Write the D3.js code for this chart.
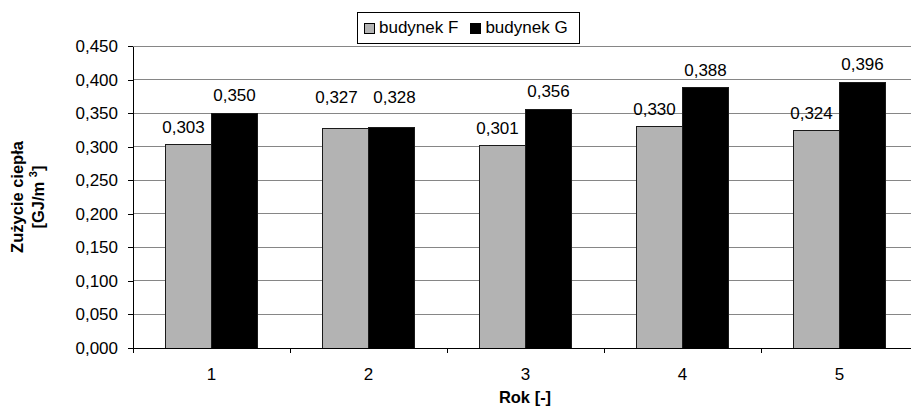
<!DOCTYPE html>
<html>
<head>
<meta charset="utf-8">
<script src="https://cdn.jsdelivr.net/npm/d3@7"></script>
<style>
  html, body { margin: 0; padding: 0; background: #fff; }
  svg { display: block; font-family: "Liberation Sans", Arial, sans-serif; }
</style>
</head>
<body>
<svg id="chart" width="911" height="410"></svg>
<script>
const years = ["1", "2", "3", "4", "5"];
const seriesNames = ["budynek F", "budynek G"];
const budynekF = [0.303, 0.327, 0.301, 0.330, 0.324];
const budynekG = [0.350, 0.328, 0.356, 0.388, 0.396];
const yTicks = [0, 0.05, 0.1, 0.15, 0.2, 0.25, 0.3, 0.35, 0.4, 0.45];

const GRAY = "#b3b3b3";
const BLACK = "#000000";
const colors = [GRAY, BLACK];

const margin = { top: 46, left: 133 };
const plotW = 785, plotH = 302;

const pl = d3.formatLocale({ decimal: ",", thousands: " ", grouping: [3], currency: ["", ""] });
const fmt = pl.format(".3f");

const svg = d3.select("#chart");
const g = svg.append("g").attr("transform", `translate(${margin.left},${margin.top})`);

const x = d3.scaleBand().domain(years).range([0, plotW]).padding(0);
const xs = d3.scaleBand().domain(seriesNames).range([0, x.bandwidth()])
  .paddingInner(0).paddingOuter(0.707);
const y = d3.scaleLinear().domain([0, 0.45]).range([plotH, 0]);

// grid lines
g.selectAll("line.grid")
  .data(yTicks.filter(d => d > 0))
  .join("line")
  .attr("class", "grid")
  .attr("x1", 0).attr("x2", plotW)
  .attr("y1", d => y(d)).attr("y2", d => y(d))
  .attr("stroke", "#868686").attr("stroke-width", 1)
  .attr("shape-rendering", "crispEdges");

// bars
const rows = years.map((yr, i) => ({ yr, vals: [budynekF[i], budynekG[i]] }));
const grp = g.selectAll("g.cat")
  .data(rows)
  .join("g")
  .attr("class", "cat")
  .attr("transform", d => `translate(${x(d.yr)},0)`);

grp.selectAll("rect")
  .data(d => d.vals.map((v, j) => ({ name: seriesNames[j], v, j })))
  .join("rect")
  .attr("x", d => xs(d.name))
  .attr("y", d => y(d.v))
  .attr("width", xs.bandwidth())
  .attr("height", d => plotH - y(d.v))
  .attr("fill", d => colors[d.j])
  .attr("stroke", "#1a1a1a").attr("stroke-width", 1)
  .attr("shape-rendering", "crispEdges");

// value labels: first series nudged left; when the pair would collide, lift and spread them
const labelGap = 12, textH = 14;
grp.each(function (d) {
  const ly = d.vals.map(v => y(v) - labelGap);
  const lx = seriesNames.map(n => xs(n) + xs.bandwidth() / 2);
  let dx = [-5, 0];
  if (Math.abs(ly[0] - ly[1]) < textH) {
    const top = Math.min(ly[0], ly[1]) - 13;
    ly[0] = top; ly[1] = top;
    dx = [-9, 3];
  }
  d3.select(this).selectAll("text.val")
    .data(d.vals)
    .join("text")
    .attr("class", "val")
    .attr("x", (v, j) => lx[j] + dx[j])
    .attr("y", (v, j) => ly[j])
    .attr("text-anchor", "middle")
    .attr("font-size", 17)
    .attr("fill", "#000")
    .text(v => fmt(v));
});

// y axis
const yAxis = g.append("g")
  .call(d3.axisLeft(y).tickValues(yTicks).tickFormat(fmt).tickSize(5).tickPadding(10).tickSizeOuter(0));
yAxis.selectAll("text").attr("font-size", 17).attr("fill", "#000").attr("font-family", null);
yAxis.selectAll("line, path").attr("stroke", "#000").attr("shape-rendering", "crispEdges");

// x axis
const xAxis = g.append("g")
  .attr("transform", `translate(0,${plotH})`)
  .call(d3.axisBottom(x).tickSize(0).tickPadding(20).tickSizeOuter(0));
xAxis.selectAll("text").attr("font-size", 17).attr("fill", "#000").attr("font-family", null);
xAxis.select("path").attr("stroke", "#000").attr("shape-rendering", "crispEdges");
xAxis.selectAll("line.boundary")
  .data(years.map(d => x(d)).concat([x.range()[1]]))
  .join("line")
  .attr("class", "boundary")
  .attr("x1", d => d).attr("x2", d => d)
  .attr("y1", 0).attr("y2", 5)
  .attr("stroke", "#000")
  .attr("shape-rendering", "crispEdges");

// axis titles
svg.append("text")
  .attr("x", 525).attr("y", 403)
  .attr("text-anchor", "middle")
  .attr("font-size", 16.5).attr("font-weight", "bold")
  .text("Rok [-]");

const yl = svg.append("g").attr("transform", "translate(0,197) rotate(-90)");
yl.append("text")
  .attr("x", 0).attr("y", 23)
  .attr("text-anchor", "middle")
  .attr("font-size", 16.5).attr("font-weight", "bold")
  .text("Zużycie ciepła");
const yl2 = yl.append("text")
  .attr("x", 0).attr("y", 44)
  .attr("text-anchor", "middle")
  .attr("font-size", 16.5).attr("font-weight", "bold");
yl2.append("tspan").text("[GJ/m ");
yl2.append("tspan").attr("dy", -7).attr("font-size", 11).text("3");
yl2.append("tspan").attr("dy", 7).text("]");

// legend
const leg = svg.append("g").attr("transform", "translate(357,12)");
leg.append("rect")
  .attr("width", 222).attr("height", 31)
  .attr("fill", "#fff").attr("stroke", "#000")
  .attr("shape-rendering", "crispEdges");
let lx = 7;
seriesNames.forEach((name, i) => {
  leg.append("rect")
    .attr("x", lx).attr("y", 11)
    .attr("width", 10).attr("height", 10)
    .attr("fill", colors[i]).attr("stroke", "#000")
    .attr("shape-rendering", "crispEdges");
  const t = leg.append("text")
    .attr("x", lx + 15).attr("y", 21)
    .attr("font-size", 17)
    .text(name);
  lx += 15 + t.node().getComputedTextLength() + 12;
});
</script>
</body>
</html>
